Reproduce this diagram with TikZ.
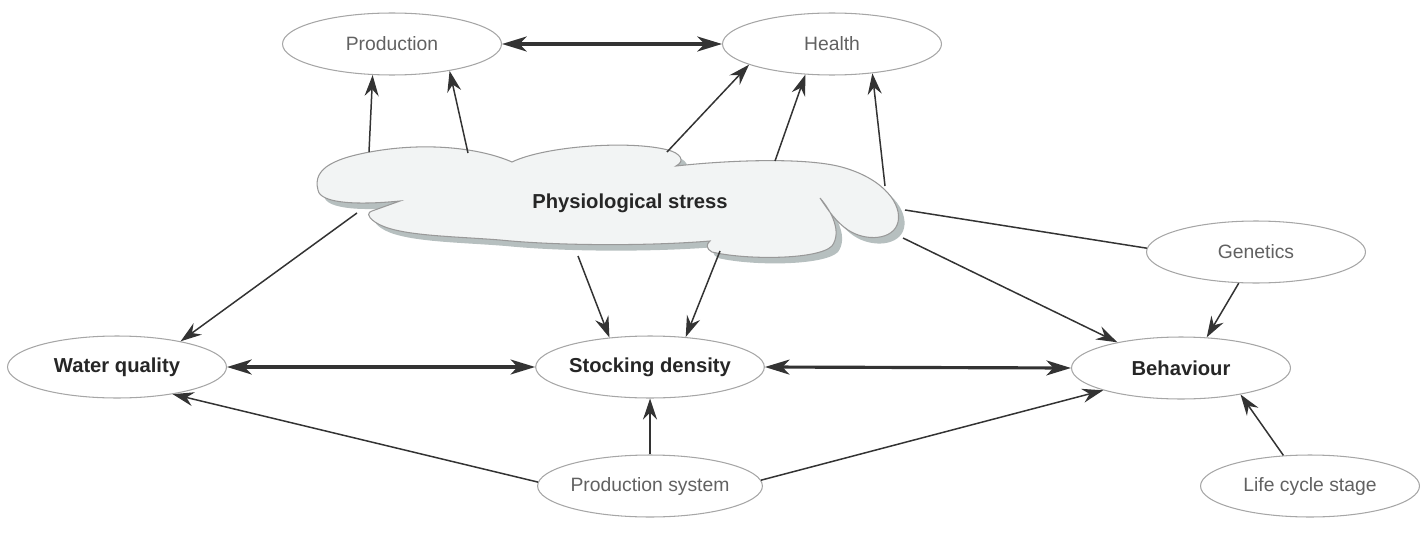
\documentclass[tikz,border=0pt]{standalone}
\usepackage{fontspec}
\setmainfont{Liberation Sans}
\usepackage{tikz}
\usetikzlibrary{arrows.meta,shapes.geometric}

\definecolor{cloudfill}{HTML}{F2F4F4}
\definecolor{cloudshade}{HTML}{B6BFBF}
\definecolor{linkgray}{HTML}{333333}

\tikzset{
  box/.style={ellipse, draw=gray!70, line width=0.6pt, minimum width=4.38cm,
    minimum height=1.24cm, inner sep=0pt, text=black!62,
    font=\fontsize{11}{13}\selectfont},
  keybox/.style={box, text=black!85, font=\fontsize{11.5}{13}\selectfont\bfseries},
  link/.style={draw=linkgray, line width=0.85pt,
    -{Stealth[length=12pt,width=8pt,inset=4pt]}},
  twoway/.style={draw=linkgray, line width=1.8pt,
    {Stealth[length=14pt,width=8.5pt,inset=4pt]}-{Stealth[length=14pt,width=8.5pt,inset=4pt]}}
}

\newcommand{\stresscloud}{(318,190) .. controls (312,168) and (335,157) .. (382,150)
  .. controls (430,143) and (480,148) .. (512,162)
  .. controls (545,146) and (630,140) .. (668,150)
  .. controls (680,153) and (686,161) .. (676,166)
  .. controls (730,160) and (810,157) .. (845,168)
  .. controls (885,180) and (902,205) .. (898,222)
  .. controls (894,240) and (866,242) .. (848,230)
  .. controls (836,222) and (828,210) .. (820,198)
  .. controls (832,212) and (842,232) .. (832,246)
  .. controls (818,260) and (745,260) .. (712,252)
  .. controls (706,249) and (706,244) .. (710,241)
  .. controls (650,246) and (560,246) .. (500,240)
  .. controls (450,236) and (395,236) .. (375,222)
  .. controls (366,216) and (368,212) .. (372,211)
  -- (400,201)
  .. controls (360,205) and (320,204) .. cycle}

\begin{document}
\begin{tikzpicture}[x=0.02cm, y=-0.02cm]

\useasboundingbox (0,0) rectangle (1422,544);

\begin{scope}[shift={(6,6)}]
\fill [cloudshade] \stresscloud;
\end{scope}
\filldraw [fill=cloudfill, draw=gray!80, line width=0.6pt] \stresscloud;
\node [font=\fontsize{11.5}{13}\selectfont\bfseries, text=black!85] (stress) at (630,203) {Physiological stress};

\node [box] (prod) at (392,44) {Production};
\node [box] (health) at (832,44) {Health};
\node [box] (genetics) at (1256,252) {Genetics};
\node [keybox] (water) at (117,367) {Water quality};
\node [keybox] (stock) at (650,367) {Stocking density};
\node [keybox] (behav) at (1181,368) {Behaviour};
\node [box] (life) at (1310,486) {Life cycle stage};
\node [box] (system) at (650,486) {Production system};

\coordinate (s1) at (369,152);
\coordinate (s2) at (468,153);
\coordinate (s3) at (667,152);
\coordinate (s4) at (775,161);
\coordinate (s5) at (885,186);
\coordinate (s6) at (357,213);
\coordinate (s7) at (578,256);
\coordinate (s8) at (720,251);
\coordinate (s9) at (903,238);
\coordinate (s10) at (905,210);

\foreach \a/\b in {s1/prod.-122, s2/prod.-25, s3/health.-166, s4/health.-131,
    s5/health.-36, s6/water.22, s7/stock.144, s8/stock.40, s9/behav.158}
    \draw [link] (\a) -- (\b);

\draw [draw=linkgray, line width=0.85pt] (s10) -- (genetics.178);

\draw [link] (genetics.-119) -- (behav.50);
\draw [link] (life.131) -- (behav.-24);
\draw [link] (system.178) -- (water.-26);
\draw [link] (system.north) -- (stock.south);
\draw [link] (system.3) -- (behav.-164);

\draw [twoway] (prod.east) -- (health.west);
\draw [twoway] (water.east) -- (stock.west);
\draw [twoway] (stock.east) -- (behav.west);

\end{tikzpicture}
\end{document}
